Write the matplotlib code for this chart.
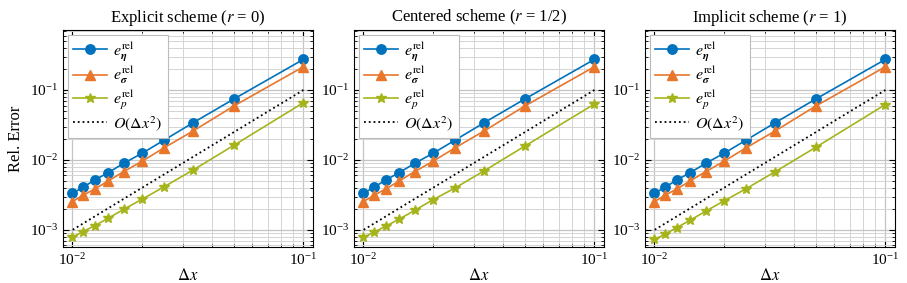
import numpy as np
import matplotlib
matplotlib.use("Agg")
import matplotlib.pyplot as plt

plt.rcParams['font.family'] = ['Liberation Serif', 'DejaVu Serif']
plt.rcParams['mathtext.fontset'] = 'stix'
plt.rcParams['font.size'] = 11

# Dane: krok siatki dx = 1/N, N = 10..100
dx = [0.1, 0.05, 1/30, 0.025, 0.02, 1/60, 1/70, 0.0125, 1/90, 0.01]

err_eta = [0.274, 0.0744, 0.0341, 0.0193, 0.01245, 0.00896, 0.00659, 0.00518, 0.00407, 0.00334]
err_sigma = [0.215, 0.0591, 0.026, 0.015, 0.00957, 0.00681, 0.00501, 0.00385, 0.00313, 0.00254]

err_p_explicit = [0.0659, 0.0162, 0.0072, 0.00416, 0.00274, 0.00197, 0.00147, 0.00115, 0.000947, 0.000785]
err_p_centered = [0.063, 0.0158, 0.0070, 0.0040, 0.0027, 0.0019, 0.00143, 0.00113, 0.00093, 0.00078]
err_p_implicit = [0.062, 0.0152, 0.0068, 0.0039, 0.0026, 0.00185, 0.00138, 0.00108, 0.00087, 0.00073]

# linia odniesienia O(dx^2)
ref_dx = [0.1, 0.01]
ref_err = [0.1, 0.001]

titles = [r'Explicit scheme ($r$ = 0)', r'Centered scheme ($r$ = 1/2)', r'Implicit scheme ($r$ = 1)']
p_errors = [err_p_explicit, err_p_centered, err_p_implicit]

c_blue = '#0072BD'
c_orange = '#E8762B'
c_green = '#A6B41C'

fig = plt.figure(figsize=(9.07, 2.83), dpi=100)
lefts = [63, 354, 645]

for i in range(3):
    ax = fig.add_axes([lefts[i] / 907, 1 - 247 / 283, 250 / 907, 217 / 283])
    ax.loglog(dx, err_eta, color=c_blue, marker='o', markersize=6.8, lw=1.2,
              label=r'$e^{\mathrm{rel}}_{\boldsymbol{\eta}}$')
    ax.loglog(dx, err_sigma, color=c_orange, marker='^', markersize=6.5, lw=1.2,
              label=r'$e^{\mathrm{rel}}_{\boldsymbol{\sigma}}$')
    ax.loglog(dx, p_errors[i], color=c_green, marker='*', markersize=7, lw=1.2,
              label=r'$e^{\mathrm{rel}}_{p}$')
    ax.loglog(ref_dx, ref_err, color='black', ls=':', lw=1.3,
              label=r'$O(\Delta x^2)$')

    ax.set_xlim(0.0091, 0.11)
    ax.set_ylim(5.7e-4, 0.72)
    ax.grid(True, which='major', color='#c4c4c4', lw=0.9)
    ax.grid(True, which='minor', color='#d4d4d4', lw=0.7)
    ax.tick_params(which='both', direction='in', top=True, right=True, labelsize=11)
    ax.tick_params(which='major', length=4)
    ax.tick_params(which='minor', length=2.5)
    ax.set_title(titles[i], fontsize=12, pad=6)
    ax.set_xlabel(r'$\Delta x$', fontsize=12, labelpad=0)
    if i == 0:
        ax.set_ylabel('Rel. Error', fontsize=12, labelpad=4)
    leg = ax.legend(loc='upper left', fancybox=False, edgecolor='#bbbbbb',
                    framealpha=1, fontsize=11.5, handlelength=2.1,
                    borderaxespad=0.3, labelspacing=0.12, handletextpad=0.4,
                    borderpad=0.35)
    leg.get_frame().set_linewidth(0.8)

plt.savefig('out.png', dpi=100)
